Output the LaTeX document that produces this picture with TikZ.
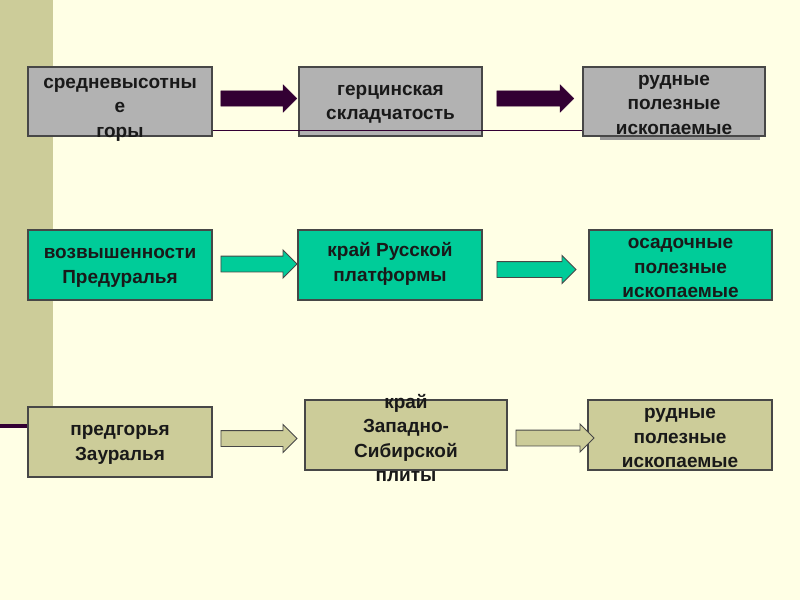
\documentclass[tikz,border=0pt]{standalone}
\usepackage{fontspec}
\setmainfont{Liberation Sans}
\usetikzlibrary{shapes.arrows}

\definecolor{slidebg}{HTML}{FFFFE5}
\definecolor{band}{HTML}{CCCC99}
\definecolor{slideline}{HTML}{330033}
\definecolor{boxgray}{HTML}{B2B2B2}
\definecolor{boxteal}{HTML}{00CC99}
\definecolor{boxkhaki}{HTML}{CCCC99}
\definecolor{rim}{HTML}{474747}

\begin{document}
\begin{tikzpicture}
[ x=1pt, y=-1pt
, box/.style={rectangle, draw=rim, line width=1.4pt, minimum width=184pt, minimum height=69pt, inner sep=0pt}
, boxtext/.style={align=center, inner sep=0pt, yshift=-3pt, text=black!90, font=\bfseries\fontsize{19}{24.5}\selectfont}
, grey/.style={box, fill=boxgray}
, teal/.style={box, fill=boxteal, minimum height=70pt}
, khaki/.style={box, fill=boxkhaki, minimum height=70pt}
, blockarrow/.style={single arrow, single arrow tip angle=90, single arrow head extend=6pt, inner xsep=0pt, inner ysep=7.5pt, minimum height=77pt}
, darkarrow/.style={blockarrow, fill=slideline, draw=slideline}
, tealarrow/.style={blockarrow, fill=boxteal, draw=rim, line width=0.9pt}
, khakiarrow/.style={blockarrow, fill=boxkhaki, draw=rim, line width=0.9pt}
]
\useasboundingbox (0,0) rectangle (800,600);
\fill[slidebg] (0,0) rectangle (800,600);
\fill[band] (0,0) rectangle (53,424);
% First row:
\fill[black!40] (600,72) rectangle (760,139.5);
\node (gory) [grey, label={[boxtext, yshift=-5pt]center:средневысотны\\е\\горы}] at (120,101.5) {};
\node (gerc) [grey, minimum width=183pt, label={[boxtext]center:герцинская\\складчатость}] at (390.5,101.5) {};
\node (rud1) [grey, minimum width=182pt, label={[boxtext]center:рудные\\полезные\\ископаемые}] at (674,101.5) {};
\draw [slideline, line width=1.2pt] ([yshift=6pt]gory.south east) -- ([yshift=6pt]rud1.south west);
\node (a1) [darkarrow, minimum height=76pt] at (255,98.5) {};
\node (a2) [darkarrow] at (531.5,98.5) {};
% Second row:
\node (vozv) [teal, label={[boxtext]center:возвышенности\\Предуралья}] at (120,265) {};
\node (kraj) [teal, label={[boxtext, yshift=4pt]center:край Русской\\платформы}] at (390,265) {};
\node (osad) [teal, minimum width=183pt, label={[boxtext]center:осадочные\\полезные\\ископаемые}] at (680.5,265) {};
\node (a3) [tealarrow, minimum height=76pt] at (255,264) {};
\node (a4) [tealarrow, minimum height=79pt] at (532.5,269.5) {};
% Third row:
\coordinate (lstart) at (0,426);
\draw [slideline, line width=3.5pt] (lstart) -- ([xshift=10pt]lstart -| 28,0);
\node (pred) [khaki, label={[boxtext]center:предгорья\\Зауралья}] at (120,442) {};
\node (plit) [khaki, minimum width=202pt, label={[boxtext]center:край\\Западно-\\Сибирской\\плиты}] at (406,435) {};
\node (rud2) [khaki, label={[boxtext]center:рудные\\полезные\\ископаемые}] at (680,435) {};
\node (a5) [khakiarrow, minimum height=76pt] at (255,438.5) {};
\node (a6) [khakiarrow, minimum height=78pt] at (551,438) {};
\end{tikzpicture}
\end{document}
